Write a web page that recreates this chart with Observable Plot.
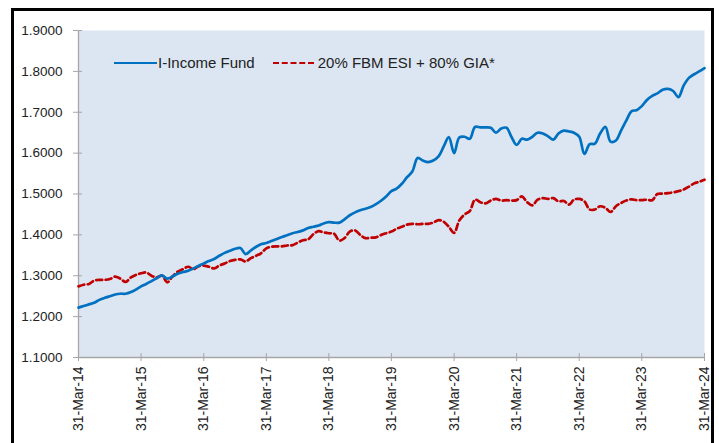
<!DOCTYPE html>
<html><head><meta charset="utf-8">
<script src="https://cdn.jsdelivr.net/npm/d3@7"></script>
<script src="https://cdn.jsdelivr.net/npm/@observablehq/plot@0.6"></script>
<style>
html,body{margin:0;padding:0;background:#fff;}
#wrap{position:relative;width:719px;height:443px;overflow:hidden;font-family:"Liberation Sans",Arial,sans-serif;}
#frame{position:absolute;left:11px;top:8px;width:697px;height:460px;border:3px solid #000;pointer-events:none;}
#legend{position:absolute;left:114px;top:54px;display:flex;align-items:center;font-size:15px;color:#222;white-space:nowrap;}
#legend .sw{display:inline-block;width:43px;height:0;margin-right:1px;}
#legend .item{display:flex;align-items:center;margin-right:18px;}
</style></head>
<body>
<div id="wrap">
  <div id="chart"></div>
  <div id="frame"></div>
  <div id="legend"></div>
</div>
<script>
const seriesNames = ["I-Income Fund", "20% FBM ESI + 80% GIA*"];
const seriesColors = ["#0070c0", "#c00000"];
const yTicks = [1.1, 1.2, 1.3, 1.4, 1.5, 1.6, 1.7, 1.8, 1.9];
const xTickYears = [2014, 2015, 2016, 2017, 2018, 2019, 2020, 2021, 2022, 2023, 2024];

// Monthly month-end values, 31-Mar-2014 .. 31-Mar-2024
const fund = [
1.222,1.226,1.230,1.234,1.241,1.246,1.250,1.254,1.256,1.256,1.260,1.266,
1.274,1.280,1.287,1.294,1.301,1.293,1.298,1.305,1.309,1.312,1.318,1.324,
1.330,1.336,1.341,1.349,1.356,1.361,1.366,1.368,1.353,1.362,1.371,1.377,
1.380,1.385,1.390,1.395,1.399,1.404,1.407,1.411,1.417,1.420,1.423,1.428,
1.431,1.430,1.430,1.438,1.448,1.455,1.460,1.464,1.468,1.475,1.484,1.494,
1.507,1.513,1.525,1.541,1.555,1.588,1.582,1.578,1.582,1.592,1.617,1.639,
1.600,1.638,1.640,1.635,1.664,1.663,1.663,1.662,1.650,1.660,1.662,1.640,
1.620,1.635,1.633,1.640,1.650,1.648,1.641,1.633,1.648,1.655,1.653,1.650,
1.640,1.598,1.622,1.623,1.648,1.664,1.628,1.631,1.655,1.680,1.703,1.705,
1.715,1.730,1.740,1.746,1.755,1.757,1.752,1.737,1.765,1.784,1.793,1.800,
1.808];
const bench = [
1.274,1.278,1.280,1.288,1.290,1.290,1.292,1.298,1.293,1.285,1.296,1.302,
1.306,1.308,1.300,1.296,1.300,1.284,1.298,1.310,1.316,1.322,1.316,1.323,
1.325,1.322,1.318,1.325,1.330,1.336,1.339,1.340,1.335,1.343,1.349,1.355,
1.367,1.371,1.372,1.372,1.374,1.375,1.381,1.387,1.389,1.402,1.409,1.406,
1.404,1.403,1.386,1.392,1.408,1.411,1.400,1.392,1.393,1.394,1.400,1.404,
1.408,1.415,1.420,1.425,1.427,1.426,1.427,1.427,1.430,1.436,1.432,1.420,
1.405,1.435,1.450,1.458,1.486,1.480,1.477,1.484,1.488,1.484,1.485,1.484,
1.485,1.494,1.480,1.472,1.486,1.490,1.488,1.490,1.482,1.483,1.474,1.486,
1.488,1.482,1.462,1.462,1.470,1.466,1.456,1.470,1.478,1.484,1.487,1.485,
1.485,1.486,1.485,1.500,1.501,1.502,1.504,1.507,1.511,1.518,1.526,1.530,
1.535];

const monthEnd = i => d3.utcDay.offset(d3.utcMonth.offset(new Date(Date.UTC(2014, 3, 1)), i), -1);
const fundData = fund.map((v, i) => ({date: monthEnd(i), value: v}));
const benchData = bench.map((v, i) => ({date: monthEnd(i), value: v}));
const xTicks = xTickYears.map(y => new Date(Date.UTC(y, 2, 31)));
const fmtX = d => "31-Mar-" + String(d.getUTCFullYear()).slice(2);

const axisColor = "#a6a6a6";
const plot = Plot.plot({
  width: 719,
  height: 443,
  marginLeft: 78,
  marginRight: 15,
  marginTop: 30,
  marginBottom: 86,
  style: {fontFamily: "'Liberation Sans', Arial, sans-serif", background: "transparent"},
  x: {type: "utc", domain: [xTicks[0], xTicks[xTicks.length - 1]]},
  y: {domain: [1.1, 1.9]},
  marks: [
    Plot.frame({fill: "#dce6f2", stroke: null}),
    Plot.ruleY([1.1], {stroke: axisColor, strokeWidth: 1.3}),
    Plot.ruleX([xTicks[0]], {stroke: axisColor, strokeWidth: 1.3}),
    Plot.axisY({ticks: yTicks, tickSize: 9, dx: 4, text: null, stroke: axisColor, label: null}),
    Plot.axisY({ticks: yTicks, tickSize: 0, tickPadding: 16, tickFormat: d3.format(".4f"), fontSize: 13.5, fill: "#222", label: null}),
    Plot.axisX({ticks: xTicks, tickSize: 8, dy: -4, text: null, stroke: axisColor, label: null}),
    Plot.axisX({ticks: xTicks, tickSize: 0, tickPadding: 9, tickRotate: -90, tickFormat: fmtX, fontSize: 14, fill: "#222", label: null}),
    Plot.line(benchData, {x: "date", y: "value", stroke: seriesColors[1], strokeWidth: 2.7, strokeDasharray: "6,3.5", curve: "catmull-rom"}),
    Plot.line(fundData, {x: "date", y: "value", stroke: seriesColors[0], strokeWidth: 2.7, curve: "catmull-rom"})
  ]
});
document.getElementById("chart").appendChild(plot);

const legend = document.getElementById("legend");
seriesNames.forEach((name, i) => {
  const item = document.createElement("div");
  item.className = "item";
  const sw = document.createElement("span");
  sw.className = "sw";
  sw.style.borderTop = (i === 0 ? "2.6px solid " : "2.6px dashed ") + seriesColors[i];
  if (i === 1) { sw.style.width = "41px"; sw.style.marginRight = "4px"; }
  const t = document.createElement("span");
  t.textContent = name;
  item.appendChild(sw); item.appendChild(t);
  legend.appendChild(item);
});
</script>
</body></html>
